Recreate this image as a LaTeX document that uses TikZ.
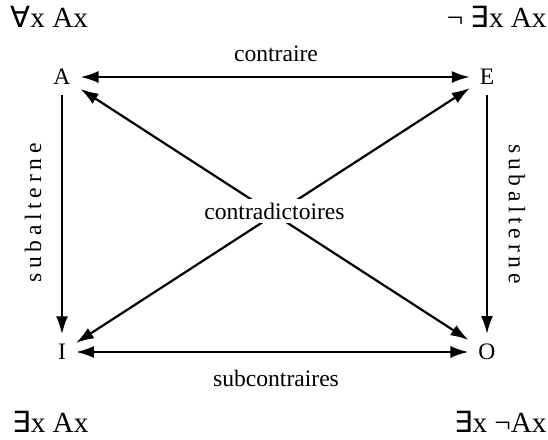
\documentclass[tikz,border=0pt]{standalone}
\usepackage{fontspec}
\setmainfont{Liberation Serif}
\newfontfamily\quantfont{DejaVu Sans}
\usetikzlibrary{arrows.meta, positioning}

\newcommand{\fa}{{\quantfont\symbol{"2200}}}
\newcommand{\ex}{{\quantfont\symbol{"2203}}}

\begin{document}
\begin{tikzpicture}[
    x=0.5pt, y=0.5pt,
    corner/.style={inner sep=5pt, outer sep=0pt, font=\fontsize{11.8}{14}\selectfont},
    quant/.style={inner sep=0pt, font=\fontsize{14.6}{18}\selectfont},
    relation/.style={inner sep=2pt, font=\fontsize{11.8}{14}\selectfont},
    spaced/.style={inner sep=0pt, font=\fontsize{11.8}{14}\selectfont\addfontfeature{LetterSpace=20}},
    arrow/.style={{Latex[length=9pt,width=6pt]}-{Latex[length=9pt,width=6pt]}, line width=1.1pt},
    onearrow/.style={-{Latex[length=9pt,width=6pt]}, line width=1.1pt}
]
    \useasboundingbox (0,0) rectangle (548,440);

    % Corners of the square
    \node[corner] (A) at (62,363) {A};
    \node[corner] (E) at (487,363) {E};
    \node[corner] (I) at (62,88) {I};
    \node[corner] (O) at (487,88) {O};

    % Quantified formulas
    \node[quant, anchor=base west] (qA) at (10,412) {\fa x Ax};
    \node[quant, anchor=base east] (qE) at (547,412) {¬ \ex x Ax};
    \node[quant, anchor=base west] (qI) at (12,7) {\ex x Ax};
    \node[quant, anchor=base east] (qO) at (547,7) {\ex x ¬Ax};

    % Relations
    \draw[arrow] (A) -- (E);
    \draw[arrow] (I) -- (O);
    \draw[onearrow] (A) -- (I);
    \draw[onearrow] (E) -- (O);
    \draw[arrow] (A) -- (O);
    \draw[arrow] (E) -- (I);

    % Labels
    \node[relation] (contr) at (276,386) {contraire};
    \node[relation] (subc) at (276,62) {subcontraires};
    \node[relation, fill=white] (contrad) at (274.5,229) {contradictoires};
    \node[spaced, rotate=90] (subl) at (33,227) {subalterne};
    \node[spaced, rotate=-90] (subr) at (517,226) {subalterne};

\end{tikzpicture}
\end{document}
